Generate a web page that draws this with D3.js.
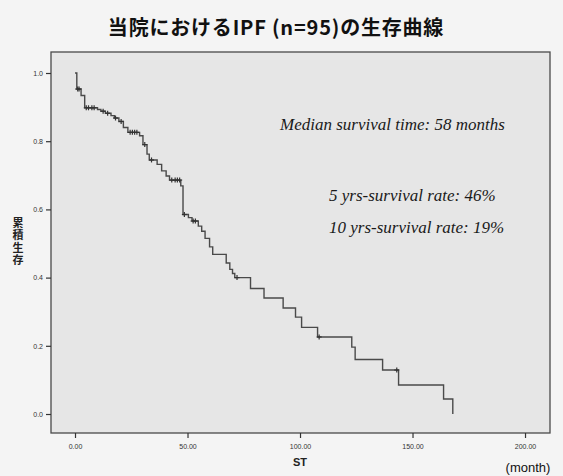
<!DOCTYPE html>
<html><head><meta charset="utf-8">
<script src="https://cdn.jsdelivr.net/npm/d3@7"></script>
<style>
html,body{margin:0;padding:0;background:#f4f4f4;}
svg{display:block;}
</style></head>
<body>
<script>
// Kaplan-Meier step data (months, cumulative survival after step)
const stepTimes = [0, 0.8, 2.7, 4.3, 10, 11.5, 13.5, 16, 17.5, 19.5, 21.5, 23.5, 28.7, 30.2, 32, 33, 36.5, 38.5, 40.5, 42, 47, 48, 50.4, 52, 54.8, 56.3, 57.8, 59.8, 61.2, 67.2, 68.8, 70, 71, 78, 84, 92.5, 98, 100.7, 107.8, 123, 124.5, 136.7, 143.8, 163.8, 167.9];
const stepSurv  = [1.0, 0.953, 0.934, 0.898, 0.893, 0.888, 0.882, 0.875, 0.868, 0.858, 0.84, 0.826, 0.816, 0.79, 0.762, 0.745, 0.732, 0.713, 0.698, 0.686, 0.669, 0.585, 0.576, 0.566, 0.551, 0.536, 0.515, 0.49, 0.468, 0.443, 0.424, 0.412, 0.40, 0.368, 0.34, 0.311, 0.284, 0.254, 0.226, 0.196, 0.16, 0.129, 0.085, 0.044, 0.0];
const censorTimes = [1.2, 1.8, 5, 6, 7.5, 8.5, 12.5, 14.5, 18, 20.5, 24.5, 25.5, 26.5, 27.5, 31, 34, 43, 44.5, 45.5, 46.5, 48.6, 52.5, 53.5, 72, 108.5, 143];
const xTicks = [0, 50, 100, 150, 200];
const xTickLabels = ["0.00", "50.00", "100.00", "150.00", "200.00"];
const yTicks = [0.0, 0.2, 0.4, 0.6, 0.8, 1.0];
const titleText = "当院におけるIPF (n=95)の生存曲線";
const yLabelText = "累積生存";
const notes = ["Median survival time: 58 months", "5 yrs-survival rate: 46%", "10 yrs-survival rate: 19%"];

const W = 563, H = 476;
const svg = d3.select("body").append("svg").attr("width", W).attr("height", H);
svg.append("rect").attr("width", W).attr("height", H).attr("fill", "#f4f4f4");

const x = d3.scaleLinear().domain([-10.67, 211.1]).range([51, 550]);
const y = d3.scaleLinear().domain([-0.0557, 1.0616]).range([433, 52]);

// plot area
svg.append("rect").attr("x", 51).attr("y", 52).attr("width", 499).attr("height", 381)
  .attr("fill", "#e6e6e6").attr("stroke", "#4a4a4a").attr("stroke-width", 1.3);

// title
svg.append("text").attr("x", 276).attr("y", 35).attr("text-anchor", "middle")
  .attr("font-family", "'Noto Sans CJK JP', sans-serif").attr("font-weight", "bold")
  .attr("font-size", 20).attr("letter-spacing", 0.8).attr("fill", "#111").text(titleText);

// axes
const yAxis = d3.axisLeft(y).tickValues(yTicks).tickFormat(d3.format(".1f")).tickSize(5).tickSizeOuter(0);
const gy = svg.append("g").attr("transform", "translate(51,0)").call(yAxis);
const xAxis = d3.axisBottom(x).tickValues(xTicks).tickFormat((d, i) => xTickLabels[i]).tickSize(5).tickSizeOuter(0);
const gx = svg.append("g").attr("transform", "translate(0,433)").call(xAxis);
[gx, gy].forEach(g => {
  g.select(".domain").remove();
  g.selectAll(".tick line").attr("stroke", "#333").attr("stroke-width", 1.2);
  g.selectAll(".tick text").attr("font-family", "'Liberation Sans', Arial, sans-serif")
    .attr("font-size", 7).attr("fill", "#333");
});
gx.selectAll(".tick text").attr("dy", "1.2em");

// axis titles
svg.append("text").attr("x", 300).attr("y", 466).attr("text-anchor", "middle")
  .attr("font-family", "'Liberation Sans', Arial, sans-serif").attr("font-weight", "bold")
  .attr("font-size", 11).attr("fill", "#222").text("ST");
svg.append("text").attr("x", 528).attr("y", 472).attr("text-anchor", "middle")
  .attr("font-family", "'Liberation Sans', Arial, sans-serif")
  .attr("font-size", 13).attr("fill", "#111").text("(month)");
svg.append("text").attr("x", 18).attr("y", 217)
  .attr("writing-mode", "vertical-rl").attr("glyph-orientation-vertical", 0)
  .attr("letter-spacing", 1.5)
  .attr("font-family", "'Noto Sans CJK JP', sans-serif").attr("font-weight", "bold")
  .attr("font-size", 11).attr("fill", "#222").text(yLabelText);

// survival curve
const pts = stepTimes.map((t, i) => [t, stepSurv[i]]);
const line = d3.line().x(d => x(d[0])).y(d => y(d[1])).curve(d3.curveStepAfter);
svg.append("path").datum(pts).attr("d", line).attr("fill", "none")
  .attr("stroke", "#4a4a4a").attr("stroke-width", 1.4);

// censor marks
function survAt(t) {
  let s = 1;
  for (let i = 0; i < stepTimes.length; i++) { if (stepTimes[i] <= t) s = stepSurv[i]; }
  return s;
}
const cg = svg.append("g").attr("stroke", "#333").attr("stroke-width", 1.2);
censorTimes.forEach(t => {
  const cx = x(t), cy = y(survAt(t));
  cg.append("line").attr("x1", cx - 2.5).attr("x2", cx + 2.5).attr("y1", cy).attr("y2", cy);
  cg.append("line").attr("x1", cx).attr("x2", cx).attr("y1", cy - 2.5).attr("y2", cy + 2.5);
});

// annotations
const nx = [280, 329, 329], ny = [130, 201, 233];
svg.append("g").selectAll("text").data(notes).join("text")
  .attr("x", (d, i) => nx[i]).attr("y", (d, i) => ny[i])
  .attr("font-family", "'Liberation Serif', 'Times New Roman', serif").attr("font-style", "italic")
  .attr("font-size", 17).attr("fill", "#1a1a1a").text(d => d);
</script>
</body></html>
